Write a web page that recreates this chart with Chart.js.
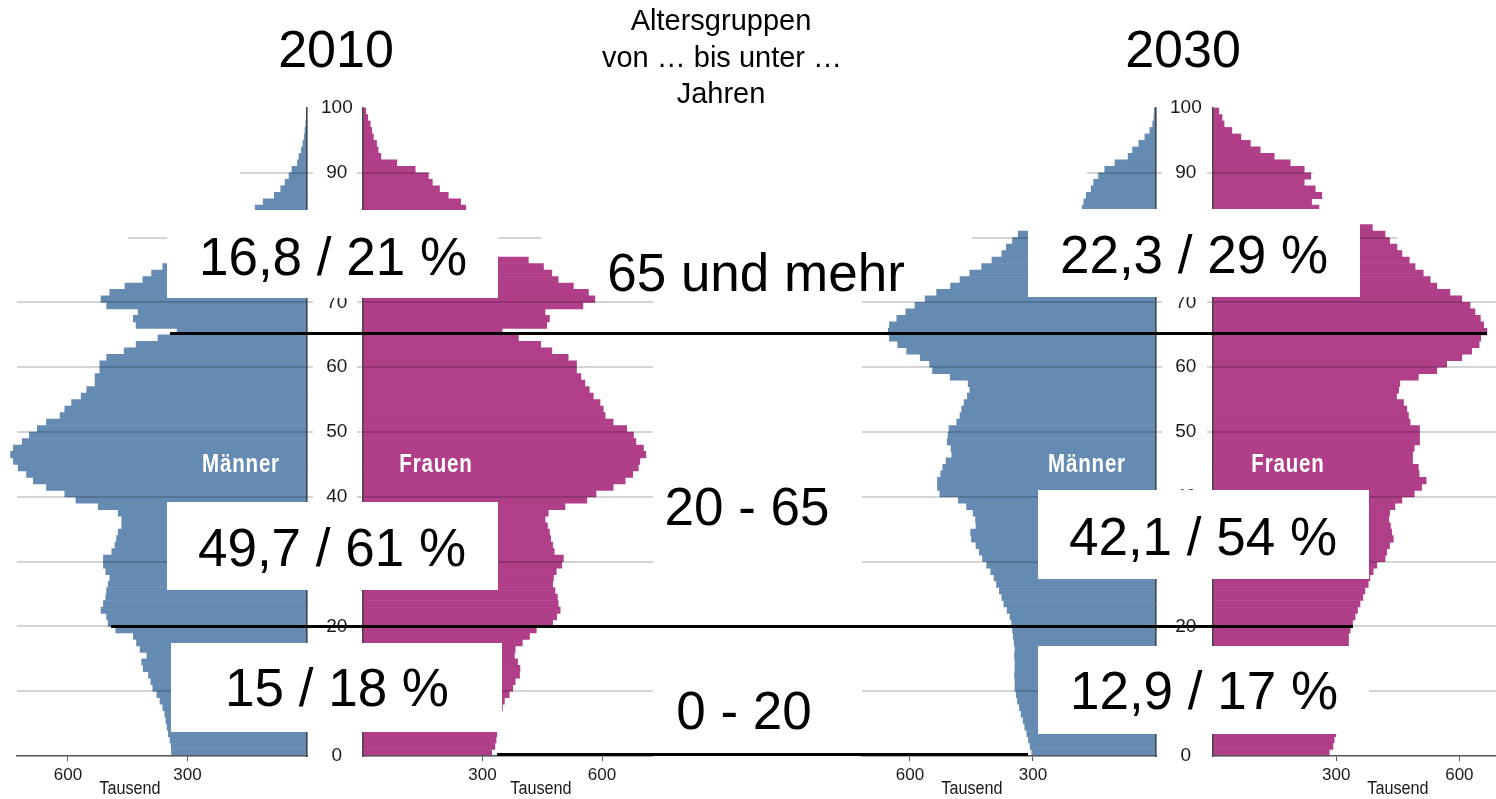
<!DOCTYPE html>
<html><head><meta charset="utf-8">
<script src="https://cdn.jsdelivr.net/npm/chart.js@4.4.1/dist/chart.umd.min.js"></script>
<style>
html,body{margin:0;padding:0;width:1496px;height:799px;overflow:hidden;background:#fff;}
#stage{position:relative;width:1496px;height:799px;overflow:hidden;background:#fff;}
canvas{position:absolute;top:0;}
.blk{position:absolute;}
.t{position:absolute;white-space:nowrap;line-height:1;}
</style></head>
<body><div id="stage">
<canvas id="m2010" width="363" height="799" style="left:0px"></canvas>
<canvas id="f2010" width="296" height="799" style="left:357px"></canvas>
<canvas id="m2030" width="367" height="799" style="left:845px"></canvas>
<canvas id="f2030" width="300" height="799" style="left:1207px"></canvas>
</div>
<script>
// ---------- DATA (thousands, age 0..99) ----------
const ages = Array.from({length: 100}, (_, i) => i);
const yTickValues = [0,10,20,30,40,50,60,70,80,90,100];
const xTickValues = [300, 600];

const men2010 = [
340,341,344,348,351,354,357,362,369,377,
387,392,398,411,415,402,419,428,436,480,
499,503,517,511,505,503,499,495,505,511,
511,490,482,478,474,465,465,474,524,580,
608,654,687,704,725,737,744,737,715,697,
677,654,620,608,591,567,553,532,532,520,
520,503,459,429,374,326,429,436,424,503,
517,495,457,412,390,362,330,300,285,265,
240,210,185,160,130,110,82,66,55,45,
38,24,20,14,10,7,5,3,2,1];

const women2010 = [
323,331,334,336,338,341,345,350,355,367,
376,382,393,394,388,380,382,400,418,435,
476,486,495,490,488,482,476,478,485,499,
503,480,476,471,468,463,457,465,507,562,
585,628,658,677,691,695,710,704,685,679,
662,628,608,603,595,578,568,557,547,536,
536,515,474,446,390,349,461,468,457,552,
582,566,528,490,474,453,415,330,325,320,
315,305,295,280,258,245,214,192,174,164,
131,85,45,38,34,26,22,18,12,7];

const men2030 = [
303,307,311,315,320,324,329,333,338,341,
344,344,345,344,344,345,344,346,348,350,
352,356,363,371,376,382,389,395,403,413,
423,431,439,450,452,439,440,446,462,482,
527,533,533,525,520,512,498,500,509,507,
505,486,478,474,468,460,454,458,502,545,
552,575,608,630,650,653,650,632,610,588,
563,535,501,478,454,425,400,376,365,350,
336,300,250,215,180,176,170,158,152,140,
125,100,68,57,42,27,15,8,5,4];

const women2030 = [
283,292,295,299,303,307,312,316,320,323,
326,325,325,326,327,327,328,330,330,334,
340,346,352,358,365,370,378,382,390,399,
419,423,430,439,435,432,428,430,443,460,
490,508,519,502,500,486,486,490,503,503,
503,480,476,472,464,447,452,455,500,545,
569,606,630,648,652,667,659,651,638,626,
606,577,545,529,512,492,478,460,448,430,
419,388,350,320,258,240,265,249,222,238,
222,188,149,115,91,68,46,27,22,14];

// ---------- STYLE ----------
const BLUE = '#668bb3';
const MAGENTA = '#b03e88';
const SANS = "'Liberation Sans',Arial,Helvetica,sans-serif";
const gridColor = c => (c.tick && (c.tick.value === 0 || c.tick.value === 100)) ? 'rgba(0,0,0,0)' : 'rgba(0,0,0,0.17)';

function makeChart(id, values, color, isMen, xMax, padLeft) {
  const ctx = document.getElementById(id).getContext('2d');
  const yAxis = {
      type: 'linear', position: isMen ? 'right' : 'left', min: 0, max: 100, offset: false,
      afterBuildTicks: s => { s.ticks = yTickValues.map(v => ({value: v})); },
      ticks: isMen ? {crossAlign: 'center', padding: 8, color: '#1a1a1a', font: {family: SANS, size: 19}} : {display: false},
      afterFit: s => { s.width = isMen ? 56 : 6; },
      grid: {z: 1, lineWidth: 2, color: gridColor, drawTicks: true, tickLength: 6, offset: false},
      border: {display: true, color: '#444', width: 1.5, z: 1}
    };
  return new Chart(ctx, {
    type: 'bar',
    data: {
      datasets: [{
        data: values.map((v, i) => ({x: v, y: ages[i] + 0.5})),
        backgroundColor: color, borderWidth: 0,
        barPercentage: 1, categoryPercentage: 1, clip: false
      }]
    },
    options: {
      indexAxis: 'y', responsive: false, animation: false, events: [],
      layout: {padding: {left: padLeft, top: 108, right: 0, bottom: 0}},
      plugins: {legend: {display: false}, tooltip: {enabled: false}},
      scales: {
        x: {
          type: 'linear', reverse: isMen, min: 0, max: xMax,
          ticks: {stepSize: 300, color: '#1a1a1a', padding: 4, font: {family: SANS, size: 17}},
          afterBuildTicks: s => { s.ticks = s.ticks.filter(t => xTickValues.includes(t.value)); },
          afterFit: s => { s.height = 43; },
          grid: {drawOnChartArea: false, drawTicks: true, tickLength: 5, color: '#555'},
          border: {display: true, color: '#555', width: 1.5, z: 1}
        },
        y: yAxis
      }
    }
  });
}

makeChart('m2010', men2010, BLUE, true, 728, 17);
makeChart('f2010', women2010, MAGENTA, false, 728, 0);
makeChart('m2030', men2030, BLUE, true, 717, 17);
makeChart('f2030', women2030, MAGENTA, false, 716, 0);

// ---------- OVERLAYS ----------
const stage = document.getElementById('stage');
function rect(l, t, w, h, bg) {
  const d = document.createElement('div');
  d.className = 'blk';
  Object.assign(d.style, {left: l + 'px', top: t + 'px', width: w + 'px', height: h + 'px', background: bg});
  stage.appendChild(d);
}
function text(str, cx, baseline, size, o) {
  o = o || {};
  const d = document.createElement('div');
  d.className = 't';
  d.textContent = str;
  Object.assign(d.style, {
    left: cx + 'px', top: (baseline - 0.8465 * size) + 'px',
    fontSize: size + 'px', fontFamily: o.family || SANS,
    fontWeight: o.weight || 'normal', color: o.color || '#000',
    letterSpacing: o.ls || 'normal',
    transform: 'translateX(-50%) scaleX(' + (o.sx || 1) + ')'
  });
  stage.appendChild(d);
}

// masks hiding outer parts of the 80 / 90 grid lines
[[0,168,240,10],[431,170,230,6],[0,233,128,9],[541,233,120,9],
 [845,168,242,10],[1313,170,190,6],[845,233,127,9],[1397,234,100,7]]
 .forEach(r => rect(r[0], r[1], r[2], r[3], '#fff'));

// white label boxes
[[167,210,331,88],[167,502,331,88],[171,643,331,89],
 [1028,209,332,88],[1038,490,331,89],[1038,646,331,88]]
 .forEach(r => rect(r[0], r[1], r[2], r[3], '#fff'));

// black separator lines
rect(170, 332, 1317, 3, '#000');
rect(111, 625, 1242, 3, '#000');
rect(497, 753, 531, 3, '#000');

// texts
text('2010', 336, 67, 52);
text('2030', 1183, 67, 52);
text('Altersgruppen', 721, 31, 29);
text('von … bis unter …', 722, 68, 29);
text('Jahren', 721, 104, 29);

text('16,8 / 21 %', 333, 275, 53);
text('49,7 / 61 %', 332, 566, 53);
text('15 / 18 %', 337, 706, 53);
text('22,3 / 29 %', 1194, 273, 53);
text('42,1 / 54 %', 1203, 555, 53);
text('12,9 / 17 %', 1204, 709, 53);

text('65 und mehr', 756, 291, 53);
text('20 - 65', 747, 525, 53);
text('0 - 20', 744, 729, 53);

const lab = {weight: 'bold', color: '#fff', ls: '1px', sx: 0.82};
text('Männer', 241, 472, 25, lab);
text('Frauen', 436, 472, 25, lab);
text('Männer', 1087, 472, 25, lab);
text('Frauen', 1288, 472, 25, lab);

const tz = {color: '#1a1a1a', sx: 0.9};
text('Tausend', 130, 794, 18, tz);
text('Tausend', 541, 794, 18, tz);
text('Tausend', 972, 794, 18, tz);
text('Tausend', 1398, 794, 18, tz);
</script>
</body></html>
